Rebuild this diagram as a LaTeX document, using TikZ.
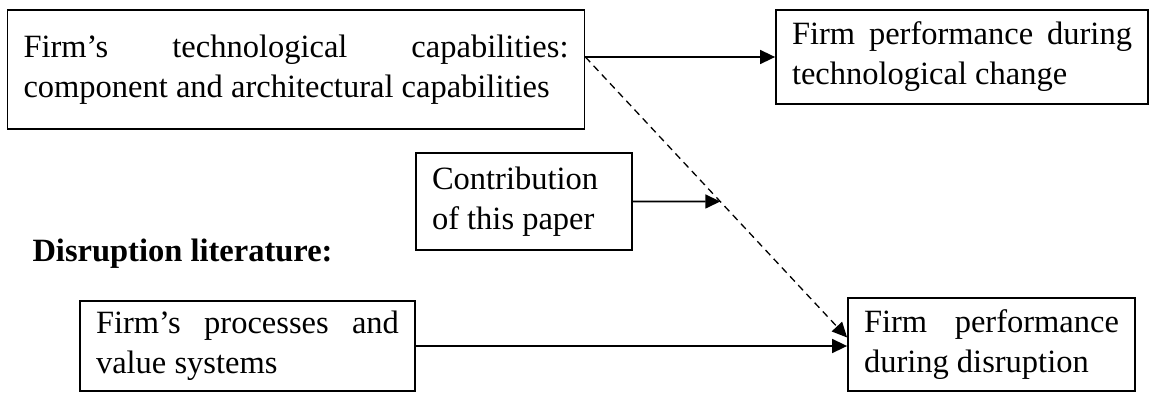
\documentclass[tikz,border=0pt]{standalone}
\usepackage{fontspec}
\setmainfont{Liberation Serif}
\usetikzlibrary{
    arrows.meta,
    positioning,
    calc
}
\tolerance=10000
\hyphenpenalty=10000
\tikzset{%
    >={Triangle[width=14pt,length=15pt]},
    % Specifications for style of nodes:
    plain/.style = {},
    base/.style = {
        plain,
        rectangle, draw=black, line width=1.8pt,
        inner xsep=16pt, inner ysep=4pt,
        font=\fontsize{32.5}{40}\selectfont,
        fill=white, align=justify
    },
    box/.style = {base},
    head/.style = {plain, font=\fontsize{32.5}{40}\selectfont\bfseries, anchor=west},
    link/.style = {line width=1.6pt, ->},
    maybe/.style = {link, line width=1.3pt, dash pattern=on 7pt off 5pt}
}
\begin{document}
\begin{tikzpicture}[x=1pt, y=1pt]
    \useasboundingbox (0,0) rectangle (1151,392);
    \node[box, text width=545pt, minimum height=119pt] (capab) at (296,322.5) {Firm’s technological capabilities: component and architectural capabilities};
    \node[box, text width=340pt, minimum height=94pt] (perfTech) at (962,335) {Firm performance during technological change};
    \node[box, text width=184pt, minimum height=97pt] (contrib) at (524,190.5) {Contribution of this paper};
    \node[head] (lit) at (29,138) {Disruption literature:};
    \node[box, text width=303pt, minimum height=90pt] (proc) at (247.5,46) {Firm’s processes and value systems};
    \node[box, text width=255pt, minimum height=93pt] (perfDis) at (991.5,47.5) {Firm performance during disruption};
    % connectors
    \coordinate (start) at ([yshift=12.5pt]capab.east);
    \coordinate (dtip) at ([yshift=7pt]perfDis.west);
    \coordinate (far) at (contrib.east -| perfDis.west);
    \draw[link] (start) -- (start -| perfTech.west);
    \draw[link] (proc.east) -- (proc.east -| perfDis.west);
    \draw[maybe] (start) -- (dtip);
    \draw[link] (contrib.east) -- (intersection of start--dtip and contrib.east--far);
\end{tikzpicture}
\end{document}
